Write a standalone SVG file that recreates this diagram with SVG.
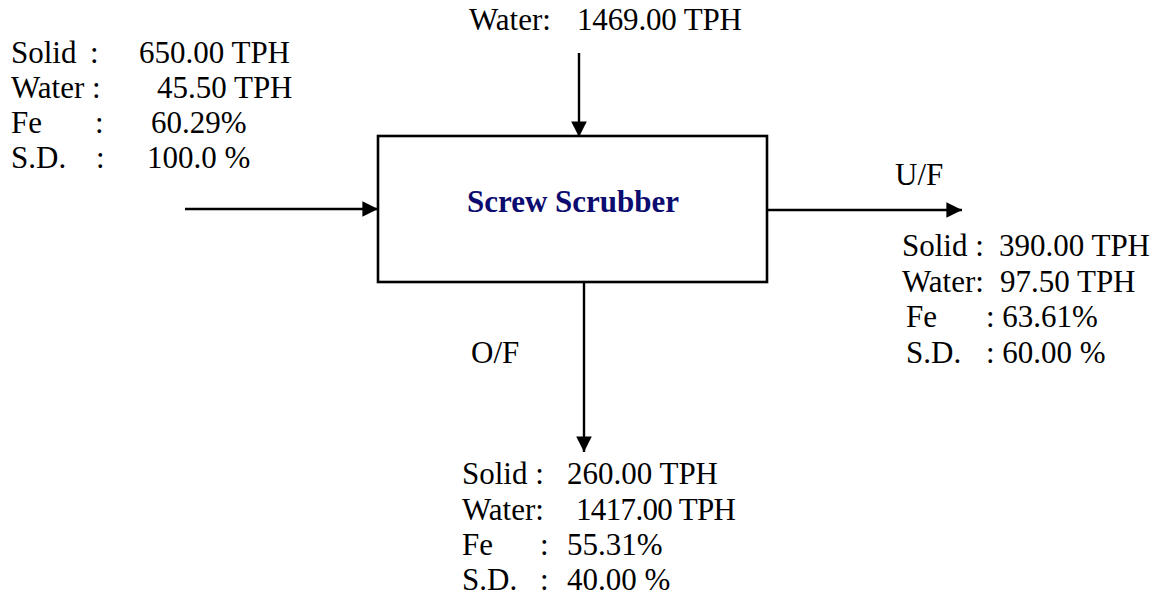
<svg xmlns="http://www.w3.org/2000/svg" width="1158" height="596" viewBox="0 0 1158 596">
<style>
text{font-family:"Liberation Serif","Times New Roman",serif;font-size:31px;fill:#000}
.title{font-weight:bold;fill:#0b0b70;font-size:31px}
.ln{stroke:#000;stroke-width:2.4;fill:none}
</style>
<defs>
<marker id="ah" viewBox="0 0 10 10" refX="10" refY="5" markerWidth="6.5" markerHeight="6.5" markerUnits="strokeWidth" orient="auto">
<path d="M0,0 L10,5 L0,10 z" fill="#000"/>
</marker>
</defs>
<rect width="1158" height="596" fill="#fff"/>
<g id="scrubber">
<rect x="378" y="136" width="389" height="146" fill="#fff" stroke="#000" stroke-width="2.6"/>
<text class="title" x="573" y="212" text-anchor="middle">Screw Scrubber</text>
</g>
<g id="connectors">
<line class="ln" x1="185" y1="209" x2="378" y2="209" marker-end="url(#ah)"/>
<line class="ln" x1="579" y1="53" x2="579" y2="137" marker-end="url(#ah)"/>
<line class="ln" x1="767" y1="210" x2="962" y2="210" marker-end="url(#ah)"/>
<line class="ln" x1="584" y1="282" x2="584" y2="452" marker-end="url(#ah)"/>
</g>
<g id="feed">
<text x="11" y="63">Solid</text><text x="90" y="63">:</text><text x="139" y="63">650.00 TPH</text>
<text x="11" y="98">Water :</text><text x="157" y="98">45.50 TPH</text>
<text x="11" y="133">Fe</text><text x="95" y="133">:</text><text x="151" y="133">60.29%</text>
<text x="11" y="168">S.D.</text><text x="96" y="168">:</text><text x="147" y="168">100.0 %</text>
</g>
<g id="water-in">
<text x="469" y="30">Water:</text><text x="577" y="30" textLength="165">1469.00 TPH</text>
</g>
<g id="underflow">
<text x="895" y="185">U/F</text>
<text x="902" y="256">Solid :</text><text x="999" y="256">390.00 TPH</text>
<text x="902" y="292">Water:</text><text x="1000" y="292">97.50 TPH</text>
<text x="906" y="327">Fe</text><text x="986" y="327">: 63.61%</text>
<text x="906" y="363">S.D.</text><text x="986" y="363">: 60.00 %</text>
</g>
<g id="overflow">
<text x="471" y="363">O/F</text>
<text x="462" y="484">Solid :</text><text x="567" y="484">260.00 TPH</text>
<text x="462" y="520">Water:</text><text x="576" y="520" textLength="160">1417.00 TPH</text>
<text x="462" y="555">Fe</text><text x="540" y="555">:</text><text x="567" y="555">55.31%</text>
<text x="462" y="590">S.D.</text><text x="540" y="590">:</text><text x="567" y="590">40.00 %</text>
</g>
</svg>
